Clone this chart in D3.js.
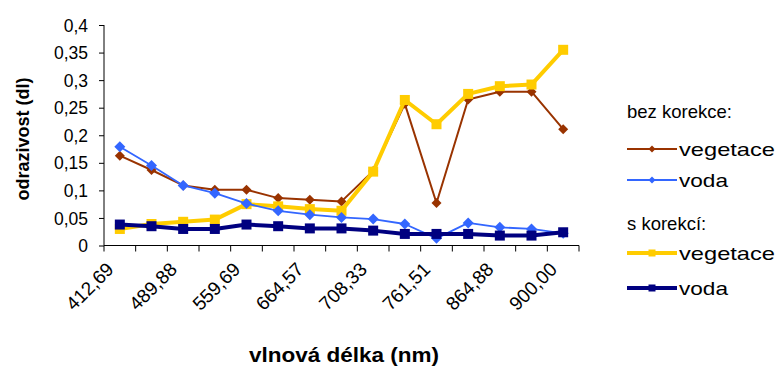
<!DOCTYPE html>
<html><head><meta charset="utf-8">
<script src="https://cdn.jsdelivr.net/npm/d3@7"></script>
<style>body{margin:0;background:#fff}svg{display:block}text{font-family:"Liberation Sans",Arial,sans-serif}</style>
</head><body><svg id="c" width="780" height="367"></svg>
<script>
const wavelengths = ["412,69","442,56","489,88","509,82","559,69","619,60","664,57","680,82","708,33","753,37","761,51","778,41","864,88","884,94","900,00"];
const vegRaw  = [0.163,0.137,0.109,0.101,0.101,0.086,0.083,0.080,0.135,0.257,0.077,0.265,0.279,0.279,0.211];
const vodaRaw = [0.179,0.145,0.109,0.095,0.076,0.063,0.056,0.051,0.048,0.039,0.013,0.041,0.033,0.030,0.022];
const vegCor  = [0.030,0.039,0.043,0.047,0.075,0.071,0.066,0.063,0.134,0.264,0.220,0.275,0.289,0.292,0.355];
const vodaCor = [0.038,0.035,0.030,0.030,0.038,0.035,0.031,0.031,0.027,0.021,0.021,0.021,0.018,0.018,0.024];
const yTicks = [0,0.05,0.1,0.15,0.2,0.25,0.3,0.35,0.4];
const groupTitles = ["bez korekce:","s korekcí:"];
const seriesNames = ["vegetace","voda","vegetace","voda"];

const series = [
  {name:seriesNames[0], values:vegRaw,  color:"#993300", width:2,   marker:"diamond", size:10, legLen:96},
  {name:seriesNames[2], values:vegCor,  color:"#FFCC00", width:4,   marker:"square",  size:10, legLen:96},
  {name:seriesNames[1], values:vodaRaw, color:"#3366FF", width:1.8, marker:"diamond", size:11, legLen:49},
  {name:seriesNames[3], values:vodaCor, color:"#000080", width:4,   marker:"square",  size:10, legLen:49}
];

const svg = d3.select("#c");
const L=104, R=579, T=25, B=245.5;
const x = d3.scaleBand().domain(wavelengths).range([L,R]);
const y = d3.scaleLinear().domain([0,0.4]).range([B,T]);
const fmt = d => String(d).replace(".",",");

// Y axis
const ya = svg.append("g").attr("transform",`translate(${L},0)`)
  .call(d3.axisLeft(y).tickValues(yTicks).tickFormat(fmt).tickSize(5).tickPadding(11));
ya.select(".domain").attr("stroke","#000").attr("d",`M0,${T}V${B}`);
ya.selectAll(".tick line").attr("stroke","#000");
ya.selectAll(".tick text").attr("font-size",17.5).attr("fill","#000").attr("dy","0.35em");

// X axis
const xa = svg.append("g").attr("transform",`translate(0,${B})`);
xa.append("line").attr("x1",L).attr("x2",R).attr("stroke","#000");
const bounds = wavelengths.map(w=>x(w)).concat([R]);
xa.selectAll("line.tk").data(bounds).join("line").attr("class","tk")
  .attr("x1",d=>d).attr("x2",d=>d).attr("y1",0).attr("y2",6).attr("stroke","#000");
xa.selectAll("text.lb").data(wavelengths.filter((d,i)=>i%2===0)).join("text").attr("class","lb")
  .attr("transform",d=>`translate(${x(d)+x.bandwidth()/2-5},${25}) rotate(-45)`)
  .attr("text-anchor","end").attr("font-size",19).attr("fill","#000").text(d=>d);

// Titles
svg.append("text").attr("transform","translate(29,139) rotate(-90)").attr("text-anchor","middle")
  .attr("font-size",18).attr("font-weight","bold").text("odrazivost (dl)");
svg.append("text").attr("x",344).attr("y",362).attr("text-anchor","middle")
  .attr("font-size",20).attr("font-weight","bold")
  .attr("textLength",190).attr("lengthAdjust","spacingAndGlyphs").text("vlnová délka (nm)");

// Series
const cx = i => x(wavelengths[i]) + x.bandwidth()/2;
function marker(g, type, size, color){
  if(type==="diamond"){
    const h=size/2;
    g.append("path").attr("d",`M0,${-h}L${h},0L0,${h}L${-h},0Z`).attr("fill",color);
  } else {
    g.append("rect").attr("x",-size/2).attr("y",-size/2).attr("width",size).attr("height",size).attr("fill",color);
  }
}
series.forEach(s=>{
  const line = d3.line().x((d,i)=>cx(i)).y(d=>y(d));
  svg.append("path").attr("d",line(s.values)).attr("fill","none").attr("stroke",s.color)
    .attr("stroke-width",s.width).attr("stroke-linejoin","round");
  s.values.forEach((v,i)=>{
    const g = svg.append("g").attr("transform",`translate(${cx(i)},${y(v)})`);
    marker(g, s.marker, s.size, s.color);
  });
});

// Legend
const leg = svg.append("g");
const legItems = [
  {title:groupTitles[0], ty:118},
  {s:series[0], ly:149},
  {s:series[2], ly:180},
  {title:groupTitles[1], ty:230},
  {s:series[1], ly:253},
  {s:series[3], ly:288}
];
legItems.forEach(it=>{
  if(it.title){
    leg.append("text").attr("x",627).attr("y",it.ty).attr("font-size",18.5).attr("fill","#000").text(it.title);
  } else {
    leg.append("line").attr("x1",627).attr("x2",677).attr("y1",it.ly).attr("y2",it.ly)
      .attr("stroke",it.s.color).attr("stroke-width",it.s.width);
    const g = leg.append("g").attr("transform",`translate(652,${it.ly})`);
    marker(g, it.s.marker, 7, it.s.color);
    leg.append("text").attr("x",679).attr("y",it.ly).attr("dy","0.35em").attr("font-size",19).attr("fill","#000")
      .attr("textLength",it.s.legLen).attr("lengthAdjust","spacingAndGlyphs").text(it.s.name);
  }
});
</script></body></html>
